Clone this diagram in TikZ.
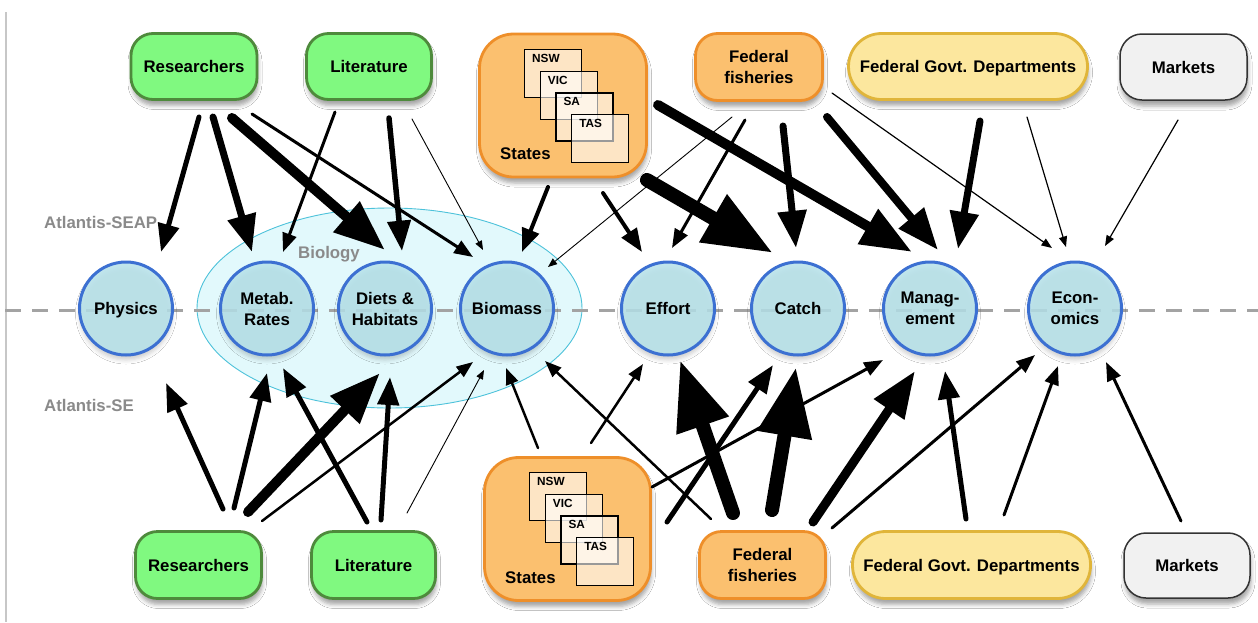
\documentclass[tikz,border=0pt]{standalone}
\usepackage{fontspec}
\setmainfont{Liberation Sans}
\usetikzlibrary{arrows.meta,shadows.blur}
\definecolor{grnF}{HTML}{80F980}
\definecolor{grnD}{HTML}{4E8A3C}
\definecolor{orgF}{HTML}{FBC06F}
\definecolor{orgD}{HTML}{EE8F2A}
\definecolor{yelF}{HTML}{FCE79E}
\definecolor{yelD}{HTML}{E0B53A}
\definecolor{mktF}{HTML}{F1F1F1}
\definecolor{cirF}{HTML}{B7E3EB}
\definecolor{cirD}{HTML}{3C70D2}
\definecolor{bioF}{HTML}{E2F9FC}
\definecolor{bioD}{HTML}{4DC2DA}
\definecolor{lblG}{HTML}{8A8A8A}
\definecolor{dashG}{HTML}{A3A3A3}
\newcommand\nodefont{\fontsize{16.8}{21}\selectfont\bfseries}
\newcommand\smallbf{\fontsize{11.8}{13}\selectfont\bfseries}
\tikzset{
  srcbox/.style={draw, line width=2.8pt, rounded corners=22pt, align=center, inner sep=0pt,
    text depth=0pt, font=\nodefont,
    blur shadow={shadow xshift=1pt, shadow yshift=-6pt, shadow blur radius=4pt, shadow opacity=35}},
  grn/.style={srcbox, fill=grnF, draw=grnD},
  org/.style={srcbox, fill=orgF, draw=orgD},
  stbox/.style={srcbox, fill=orgF, draw=orgD, rounded corners=34pt},
  yel/.style={srcbox, fill=yelF, draw=yelD, rounded corners=33pt},
  mkt/.style={srcbox, fill=mktF, draw=black!80, line width=1.5pt},
  circ/.style={circle, draw=cirD, fill=cirF, line width=3pt, minimum size=93pt, inner sep=0pt,
    text depth=0pt, align=center, font=\nodefont, fill opacity=0.85, text opacity=1,
    blur shadow={shadow xshift=0pt, shadow yshift=-5pt, shadow blur radius=4pt, shadow opacity=22}},
  sbox/.style={draw=black, line width=1.1pt, fill=white, fill opacity=0.6, minimum width=57pt,
    minimum height=48pt, inner sep=0pt, anchor=north west},
  slbl/.style={anchor=north west, inner sep=0pt, font=\smallbf},
  glabel/.style={text=lblG, font=\nodefont, inner sep=0pt},
  arr/.style={line cap=round, -{Triangle[length=5pt 4.6, width=4pt 3.4]}, line width=#1},
}
\begin{document}
\begin{tikzpicture}[x=1pt, y=-1pt]
\useasboundingbox (0,0) rectangle (1258,622);
\fill[white] (0,0) rectangle (1258,622);
% left rule
\draw[black!22, line width=1.5pt] (6,12) -- (6,622);
% biology ellipse
\draw[bioD, fill=bioF, line width=0.9pt] (389.5,308) ellipse [x radius=192.5pt, y radius=100pt];
% dashed separator
\draw[dashG, line width=3pt, dash pattern=on 16pt off 11pt] (5,310) -- (1258,310);
% circles
\node[circ] (phys)   at (126,308.5) {Physics};
\node[circ] (metab)  at (267,308.5) {Metab.\\Rates};
\node[circ] (diets)  at (385,308.5) {Diets \&\\Habitats};
\node[circ] (bio)    at (507,308.5) {Biomass};
\node[circ] (effort) at (668,308.5) {Effort};
\node[circ] (catch)  at (798,308.5) {Catch};
\node[circ] (manag)  at (930,308.5) {Manag-\\ement};
\node[circ] (econ)   at (1075,308.5) {Econ-\\omics};
% labels
\node[glabel, anchor=west] (seap) at (44,222) {Atlantis-SEAP};
\node[glabel, anchor=west] (se) at (44,405) {Atlantis-SE};
\node[glabel] (biolbl) at (329,254) {Biology};
% top sources
\node[grn, minimum width=126pt, minimum height=66pt] (rT) at (194,66.5) {Researchers};
\node[grn, minimum width=125pt, minimum height=66pt] (lT) at (369,66.5) {Literature};
\node[stbox, minimum width=167pt, minimum height=143pt] (sT) at (563,105.5) {};
\node[org, minimum width=127pt, minimum height=67pt] (fT) at (759,67) {Federal\\fisheries};
\node[yel, minimum width=239pt, minimum height=66pt] (gT) at (968,66.5) {Federal Govt. Departments};
\node[mkt, minimum width=127pt, minimum height=66pt] (mT) at (1183.5,67) {Markets};
% bottom sources
\node[grn, minimum width=126pt, minimum height=67pt] (rB) at (198.5,565) {Researchers};
\node[grn, minimum width=124pt, minimum height=67pt] (lB) at (373.5,565) {Literature};
\node[stbox, minimum width=166pt, minimum height=143pt] (sB) at (567.5,529) {};
\node[org, minimum width=126pt, minimum height=67pt] (fB) at (762.5,565) {Federal\\fisheries};
\node[yel, minimum width=238pt, minimum height=67pt] (gB) at (971.5,565) {Federal Govt. Departments};
\node[mkt, minimum width=126pt, minimum height=65pt] (mB) at (1187,565.5) {Markets};
% states contents (top)
\node[sbox] (nswT) at ([shift={(-39,-56.5)}]sT.center) {};
\node[slbl] at ([shift={(8,5)}]nswT.north west) {NSW};
\node[sbox] (vicT) at ([shift={(-23.3,-34.8)}]sT.center) {};
\node[slbl] at ([shift={(8,5)}]vicT.north west) {VIC};
\node[sbox] (saT) at ([shift={(-7.6,-13.1)}]sT.center) {};
\node[slbl] at ([shift={(8,5)}]saT.north west) {SA};
\node[sbox] (tasT) at ([shift={(8.1,8.6)}]sT.center) {};
\node[slbl] at ([shift={(8,5)}]tasT.north west) {TAS};
\node[anchor=west, inner sep=0pt, font=\nodefont] (stT) at ([shift={(-63,48.5)}]sT.center) {States};
% states contents (bottom)
\node[sbox] (nswB) at ([shift={(-38.5,-57)}]sB.center) {};
\node[slbl] at ([shift={(8,5)}]nswB.north west) {NSW};
\node[sbox] (vicB) at ([shift={(-22.8,-35.3)}]sB.center) {};
\node[slbl] at ([shift={(8,5)}]vicB.north west) {VIC};
\node[sbox] (saB) at ([shift={(-7.1,-13.6)}]sB.center) {};
\node[slbl] at ([shift={(8,5)}]saB.north west) {SA};
\node[sbox] (tasB) at ([shift={(8.6,8.1)}]sB.center) {};
\node[slbl] at ([shift={(8,5)}]tasB.north west) {TAS};
\node[anchor=west, inner sep=0pt, font=\nodefont] (stB) at ([shift={(-62.5,49)}]sB.center) {States};
% top arrows
\draw[arr=5pt]   ([shift={(5,50.5)}]rT.center)  -- ([shift={(35,-56.5)}]phys.center);
\draw[arr=7pt]   ([shift={(19,50.5)}]rT.center) -- ([shift={(-15,-56.5)}]metab.center);
\draw[arr=10pt]  ([shift={(38,51.5)}]rT.center) -- ([shift={(0,-58.5)}]diets.center);
\draw[arr=3pt]   ([shift={(58,47.5)}]rT.center) -- ([shift={(-34,-51.5)}]bio.center);
\draw[arr=3pt]   ([shift={(-34,45.5)}]lT.center) -- ([shift={(16,-56.5)}]metab.center);
\draw[arr=5.5pt] ([shift={(20,51.5)}]lT.center) -- ([shift={(17,-57.5)}]diets.center);
\draw[arr=0.9pt] ([shift={(43,52.5)}]lT.center) -- ([shift={(-24,-58.5)}]bio.center);
\draw[arr=4pt]   ([shift={(-15,81.5)}]sT.center) -- ([shift={(15,-56.5)}]bio.center);
\draw[arr=4pt]   ([shift={(40,87.5)}]sT.center) -- ([shift={(-26,-56.5)}]effort.center);
\draw[arr=0.9pt] ([shift={(-27,50)}]fT.center) -- ([shift={(41,-41.5)}]bio.center);
\draw[arr=3pt]   ([shift={(-14,53)}]fT.center) -- ([shift={(4,-60.5)}]effort.center);
\draw[arr=14pt]  ([shift={(84,74.5)}]sT.center) -- ([shift={(-25,-55.5)}]catch.center);
\draw[arr=7pt]   ([shift={(24,59)}]fT.center) -- ([shift={(-2,-60.5)}]catch.center);
\draw[arr=10pt]  ([shift={(95,-0.5)}]sT.center) -- ([shift={(-18,-56.5)}]manag.center);
\draw[arr=8pt]   ([shift={(68,50)}]fT.center) -- ([shift={(8,-58.5)}]manag.center);
\draw[arr=1.2pt] ([shift={(73,26)}]fT.center) -- ([shift={(-23,-60.5)}]econ.center);
\draw[arr=7pt]   ([shift={(12,54.5)}]gT.center) -- ([shift={(28,-59.5)}]manag.center);
\draw[arr=1.2pt] ([shift={(59,50.5)}]gT.center) -- ([shift={(-9,-61.5)}]econ.center);
\draw[arr=1.2pt] ([shift={(-5.5,53)}]mT.center) -- ([shift={(30,-62.5)}]econ.center);
% bottom arrows
\draw[arr=5pt]   ([shift={(24.5,-56)}]rB.center) -- ([shift={(40,74.5)}]phys.center);
\draw[arr=5pt]   ([shift={(35.5,-57)}]rB.center) -- ([shift={(0,64.5)}]metab.center);
\draw[arr=10pt]  ([shift={(49.5,-53)}]rB.center) -- ([shift={(-5,64.5)}]diets.center);
\draw[arr=2.5pt] ([shift={(63.5,-44)}]rB.center) -- ([shift={(-34,53.5)}]bio.center);
\draw[arr=5pt]   ([shift={(-6.5,-43)}]lB.center) -- ([shift={(16,59.5)}]metab.center);
\draw[arr=5pt]   ([shift={(7.5,-45)}]lB.center) -- ([shift={(5,68.5)}]diets.center);
\draw[arr=0.9pt] ([shift={(33.5,-52)}]lB.center) -- ([shift={(-23,61.5)}]bio.center);
\draw[arr=2.5pt] ([shift={(-29.5,-81)}]sB.center) -- ([shift={(-1,59.5)}]bio.center);
\draw[arr=2.5pt] ([shift={(23.5,-86)}]sB.center) -- ([shift={(-25,55.5)}]effort.center);
\draw[arr=2.5pt] ([shift={(-51.5,-46)}]fB.center) -- ([shift={(38,52.5)}]bio.center);
\draw[arr=14pt]  ([shift={(-29.5,-52)}]fB.center) -- ([shift={(12,51.5)}]effort.center);
\draw[arr=5pt]   ([shift={(99.5,-7)}]sB.center) -- ([shift={(-25,56.5)}]catch.center);
\draw[arr=14pt]  ([shift={(9.5,-55)}]fB.center) -- ([shift={(-2,58.5)}]catch.center);
\draw[arr=3pt]   ([shift={(84.5,-42)}]sB.center) -- ([shift={(-47,51.5)}]manag.center);
\draw[arr=9pt]   ([shift={(50.5,-43)}]fB.center) -- ([shift={(-15,62.5)}]manag.center);
\draw[arr=3pt]   ([shift={(69.5,-37)}]fB.center) -- ([shift={(-40,46.5)}]econ.center);
\draw[arr=5pt]   ([shift={(-5.5,-46)}]gB.center) -- ([shift={(15,62.5)}]manag.center);
\draw[arr=3pt]   ([shift={(32.5,-50)}]gB.center) -- ([shift={(-17,57.5)}]econ.center);
\draw[arr=3pt]   ([shift={(-6,-44.5)}]mB.center) -- ([shift={(31,53.5)}]econ.center);
\end{tikzpicture}
\end{document}
